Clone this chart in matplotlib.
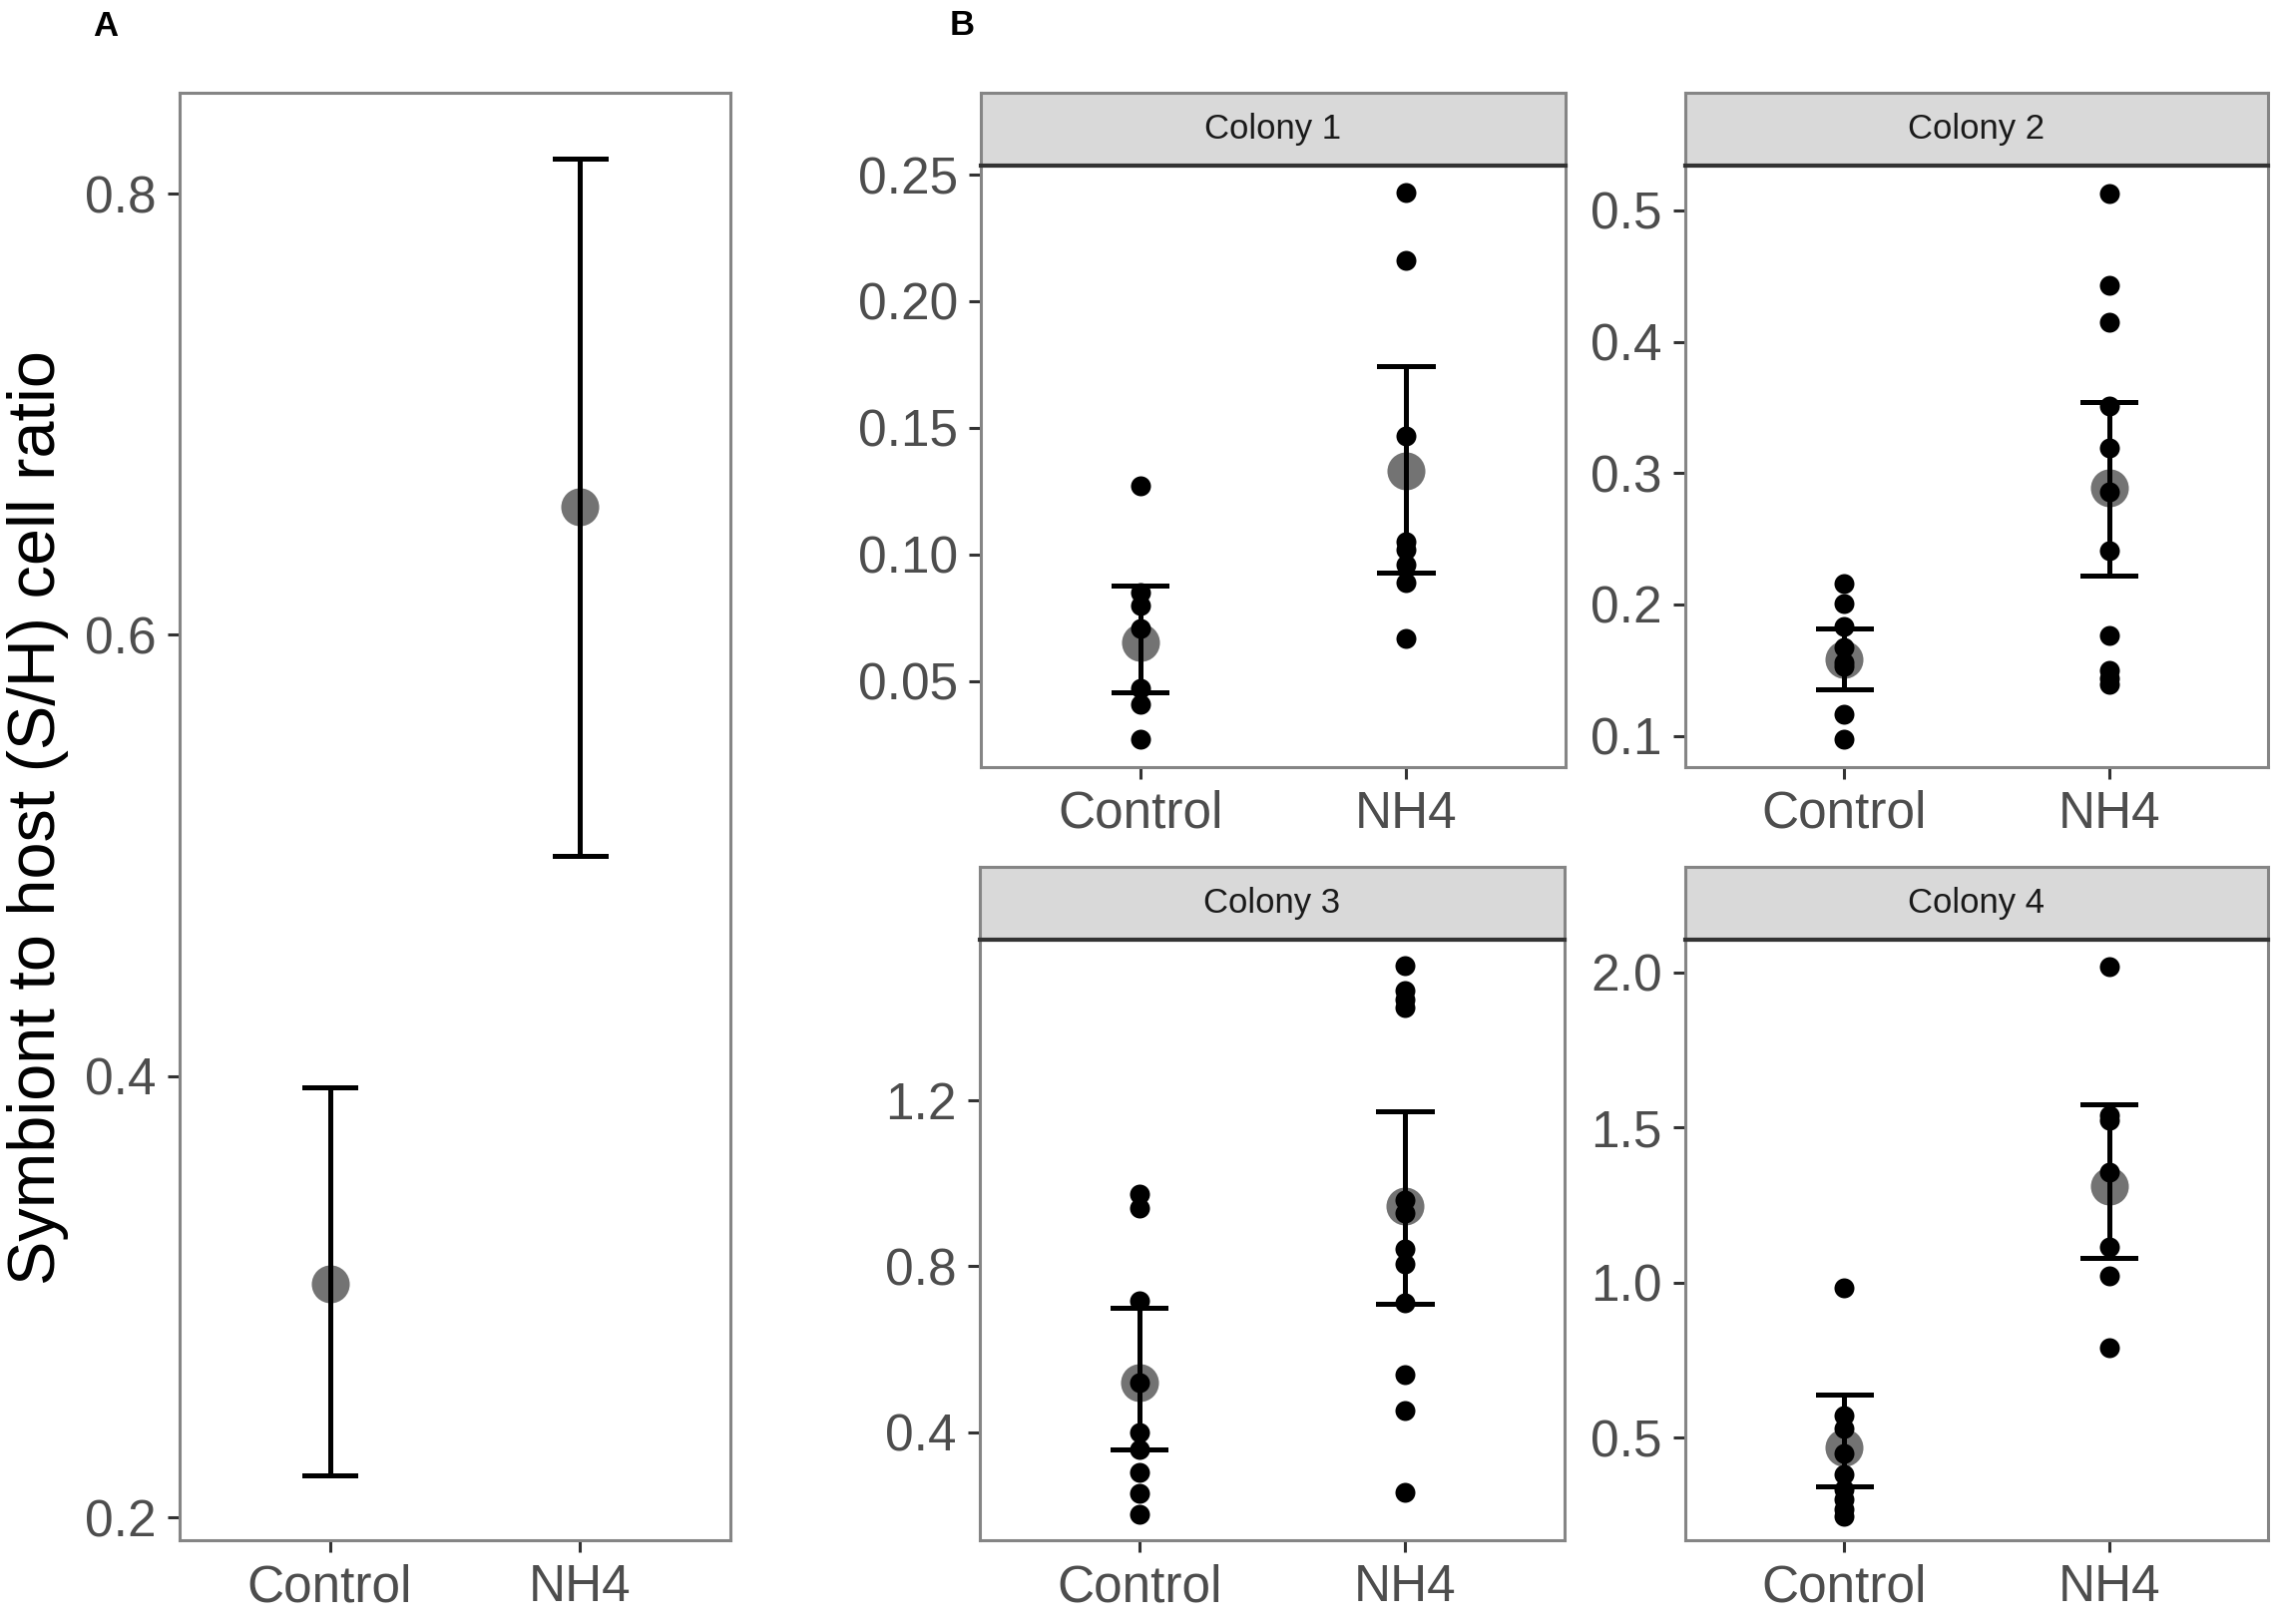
import matplotlib
matplotlib.use("Agg")
import matplotlib.pyplot as plt
from matplotlib.ticker import FixedLocator, FormatStrFormatter

plt.rcParams['font.family'] = ['Liberation Sans', 'DejaVu Sans']

# Panel A: overall mean and error bar per treatment
groups = ["Control", "NH4"]
a_mean = [0.306, 0.658]
a_lower = [0.219, 0.500]
a_upper = [0.395, 0.816]

# Panel B: per colony raw points, means and error bars
colonies = ["Colony 1", "Colony 2", "Colony 3", "Colony 4"]
control_points = [
    [0.127, 0.085, 0.080, 0.071, 0.047, 0.041, 0.027],
    [0.216, 0.201, 0.183, 0.167, 0.156, 0.153, 0.116, 0.097],
    [0.974, 0.940, 0.716, 0.520, 0.400, 0.359, 0.303, 0.252, 0.201],
    [0.985, 0.572, 0.530, 0.450, 0.382, 0.334, 0.302, 0.270, 0.248],
]
nh4_points = [
    [0.243, 0.216, 0.147, 0.105, 0.102, 0.096, 0.089, 0.067],
    [0.513, 0.443, 0.415, 0.351, 0.319, 0.286, 0.241, 0.176, 0.150, 0.144, 0.139],
    [1.526, 1.465, 1.445, 1.426, 0.961, 0.929, 0.843, 0.805, 0.712, 0.539, 0.451, 0.255],
    [2.019, 1.541, 1.524, 1.357, 1.114, 1.021, 0.792],
]
b_mean = [[0.0655, 0.133], [0.158, 0.289], [0.520, 0.945], [0.470, 1.311]]
b_lower = [[0.0456, 0.093], [0.135, 0.222], [0.357, 0.709], [0.344, 1.079]]
b_upper = [[0.0877, 0.1745], [0.182, 0.354], [0.700, 1.174], [0.638, 1.577]]
b_ylims = [(0.0162, 0.2536), (0.0763, 0.5342), (0.1387, 1.590), (0.1699, 2.1077)]
b_ticks = [[0.05, 0.10, 0.15, 0.20, 0.25], [0.1, 0.2, 0.3, 0.4, 0.5],
           [0.4, 0.8, 1.2], [0.5, 1.0, 1.5, 2.0]]
b_fmt = ['%.2f', '%.1f', '%.1f', '%.1f']

W, H = 2281, 1628
fig = plt.figure(figsize=(W / 100, H / 100), dpi=100)


def px_axes(left, top, right, bottom):
    return fig.add_axes([left / W, 1 - bottom / H, (right - left) / W, (bottom - top) / H])


def style_axes(ax):
    for sp in ax.spines.values():
        sp.set_color('#858585')
        sp.set_linewidth(2.2)
    ax.tick_params(axis='both', length=8.6, width=2.2, color='#333333',
                   labelsize=37, labelcolor='#4D4D4D', pad=8)
    ax.set_xlim(0.4, 2.6)
    ax.set_xticks([1, 2])
    ax.set_xticklabels(groups)


def draw_summary(ax, means, lowers, uppers):
    xs = [1, 2]
    for x, lo, hi in zip(xs, lowers, uppers):
        ax.plot([x, x], [lo, hi], color='black', lw=3.6, zorder=3, solid_capstyle='butt')
        ax.plot([x - 0.1, x + 0.1], [lo, lo], color='black', lw=3.6, zorder=3)
        ax.plot([x - 0.1, x + 0.1], [hi, hi], color='black', lw=3.6, zorder=3)
    ax.plot(xs, means, linestyle='None', marker='o', markersize=27.4,
            markerfacecolor='black', markeredgecolor='none', alpha=0.55, zorder=4)


# Panel A
ax_a = px_axes(180, 93.5, 732, 1544)
style_axes(ax_a)
draw_summary(ax_a, a_mean, a_lower, a_upper)
ax_a.set_ylim(0.1896, 0.8455)
ax_a.yaxis.set_major_locator(FixedLocator([0.2, 0.4, 0.6, 0.8]))
ax_a.yaxis.set_major_formatter(FormatStrFormatter('%.1f'))
fig.text(38 / W, 1 - 820 / H, "Symbiont to host (S/H) cell ratio", rotation=90,
         ha='center', va='center', fontsize=48, color='black')

# Panel B facets
boxes = [(983, 1568.6, 92.9, 165.9, 768.7), (1689, 2273, 92.9, 165.9, 768.7),
         (982, 1567.7, 868.8, 941.5, 1544), (1689, 2273, 868.8, 941.5, 1544)]
for i, name in enumerate(colonies):
    left, right, strip_top, top, bottom = boxes[i]
    ax = px_axes(left, top, right, bottom)
    style_axes(ax)
    ax.plot([1] * len(control_points[i]), control_points[i], linestyle='None',
            marker='o', markersize=14.4, color='black', markeredgecolor='none', zorder=2)
    ax.plot([2] * len(nh4_points[i]), nh4_points[i], linestyle='None',
            marker='o', markersize=14.4, color='black', markeredgecolor='none', zorder=2)
    draw_summary(ax, b_mean[i], b_lower[i], b_upper[i])
    ax.set_ylim(*b_ylims[i])
    ax.yaxis.set_major_locator(FixedLocator(b_ticks[i]))
    ax.yaxis.set_major_formatter(FormatStrFormatter(b_fmt[i]))

    strip = px_axes(left, strip_top, right, top)
    strip.set_facecolor('#D9D9D9')
    strip.set_xticks([])
    strip.set_yticks([])
    for sp in strip.spines.values():
        sp.set_color('#858585')
        sp.set_linewidth(2.2)
    strip.spines['bottom'].set_color('#333333')
    strip.spines['bottom'].set_linewidth(3)
    strip.text(0.5, 0.5, name, transform=strip.transAxes, ha='center', va='center',
               fontsize=25, color='#1A1A1A')

fig.text(93 / W, 1 - 36 / H, "A", fontsize=25, fontweight='bold', ha='left', va='baseline')
fig.text(952 / W, 1 - 35 / H, "B", fontsize=25, fontweight='bold', ha='left', va='baseline')

fig.savefig("out.png", dpi=100, facecolor='white')
